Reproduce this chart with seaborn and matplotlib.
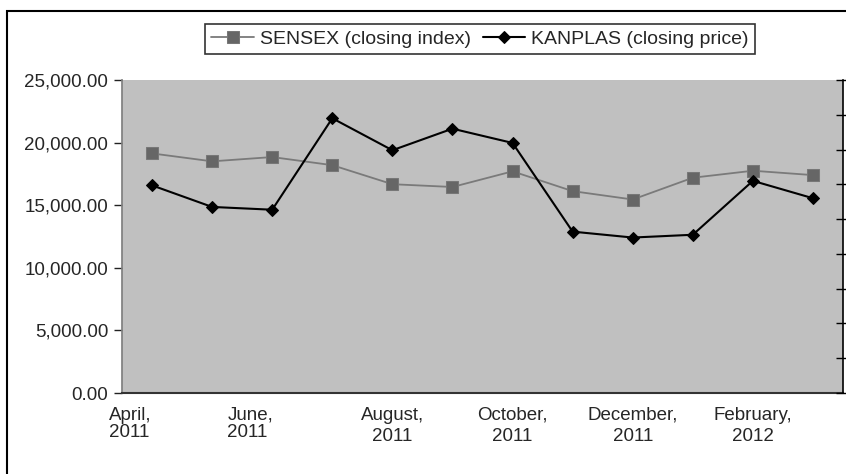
import pandas as pd
import numpy as np
import matplotlib.pyplot as plt
from matplotlib.patches import Rectangle
from matplotlib.ticker import FuncFormatter
from matplotlib.transforms import ScaledTranslation
import seaborn as sns

# data
months = ['Apr 2011', 'May 2011', 'Jun 2011', 'Jul 2011', 'Aug 2011', 'Sep 2011',
          'Oct 2011', 'Nov 2011', 'Dec 2011', 'Jan 2012', 'Feb 2012', 'Mar 2012']
sensex = [19136, 18503, 18846, 18197, 16677, 16454, 17705, 16123, 15455, 17194, 17753, 17404]
kanplas = [59.7, 53.5, 52.7, 79.0, 69.8, 76.0, 71.9, 46.4, 44.7, 45.5, 61.0, 56.0]
tick_labels = ['April,\n2011', 'June,\n2011', 'August,\n2011', 'October,\n2011',
               'December,\n2011', 'February,\n2012']

df = pd.DataFrame({'Month': months, 'SENSEX': sensex, 'KANPLAS': kanplas})
df['pos'] = np.arange(len(df))

sns.set_theme(style="white")
plt.rcParams['font.family'] = ['Liberation Sans', 'DejaVu Sans']

fig = plt.figure(figsize=(8.46, 4.74), dpi=100)
ax = fig.add_axes([122 / 846, 1 - 393 / 474, (843 - 122) / 846, (393 - 80) / 474])
ax.set_facecolor('#C0C0C0')

sns.lineplot(data=df, x='pos', y='SENSEX', ax=ax, color='#7a7a7a', linewidth=1.3,
             marker='s', markersize=8, markerfacecolor='#666666', markeredgecolor='#777777',
             label='SENSEX (closing index)', legend=False)
ax.set_ylim(0, 25000)
ax.set_yticks(np.arange(0, 25001, 5000))
ax.yaxis.set_major_formatter(FuncFormatter(lambda v, p: f'{v:,.2f}'))
ax.set_xlim(-0.5, 11.5)
ax.set_xticks(np.arange(-0.5, 12, 1))
ax.set_xticklabels([])
ax.set_xticks(np.arange(0, 12, 2), minor=True)
ax.set_xticklabels(tick_labels, minor=True)
ax.tick_params(axis='x', which='major', direction='inout', length=10, width=1, color='#222222')
ax.tick_params(axis='x', which='minor', length=0, pad=10, labelsize=13.5)
ax.tick_params(axis='y', direction='out', length=6, width=1, color='#222222', labelsize=13.5, pad=4)
ax.set_xlabel('')
ax.set_ylabel('')
ax.spines['top'].set_visible(False)
ax.spines['right'].set_visible(False)
ax.spines['left'].set_color('#808080')
ax.spines['bottom'].set_color('#333333')
ax.spines['bottom'].set_linewidth(1.5)

# the first two category labels sit further left and tighter, as in the source
for i, lab in enumerate(ax.get_xticklabels(minor=True)):
    if i < 2:
        lab.set_transform(lab.get_transform() + ScaledTranslation(-0.22, 0, fig.dpi_scale_trans))
        lab.set_linespacing(1.0)
        lab.set_multialignment('left')
    else:
        lab.set_linespacing(1.3)

ax2 = ax.twinx()
sns.lineplot(data=df, x='pos', y='KANPLAS', ax=ax2, color='black', linewidth=1.5,
             marker='D', markersize=6, markeredgecolor='black',
             label='KANPLAS (closing price)', legend=False)
ax2.set_ylim(0, 90)
ax2.set_yticks(np.arange(0, 91, 10))
ax2.set_yticklabels([])
ax2.set_ylabel('')
ax2.tick_params(axis='y', direction='inout', length=10, width=1, color='black')
for s in ['top', 'left', 'bottom']:
    ax2.spines[s].set_visible(False)
ax2.spines['right'].set_color('black')
ax2.spines['right'].set_linewidth(1.2)

h1, l1 = ax.get_legend_handles_labels()
h2, l2 = ax2.get_legend_handles_labels()
leg = fig.legend(h1 + h2, l1 + l2, loc='center', bbox_to_anchor=(480 / 846, 1 - 39 / 474),
                 ncol=2, frameon=True, fancybox=False, fontsize=14, handlelength=2.2,
                 handletextpad=0.3, columnspacing=0.6, borderpad=0.3)
leg.get_frame().set_edgecolor('black')
leg.get_frame().set_linewidth(1.2)

# outer chart border (cropped on right and bottom)
fig.patches.append(Rectangle((7 / 846, -0.2), 1.5, 1.2 - 11 / 474, transform=fig.transFigure,
                             fill=False, edgecolor='black', linewidth=1.5))

plt.savefig('out.png', dpi=100)
